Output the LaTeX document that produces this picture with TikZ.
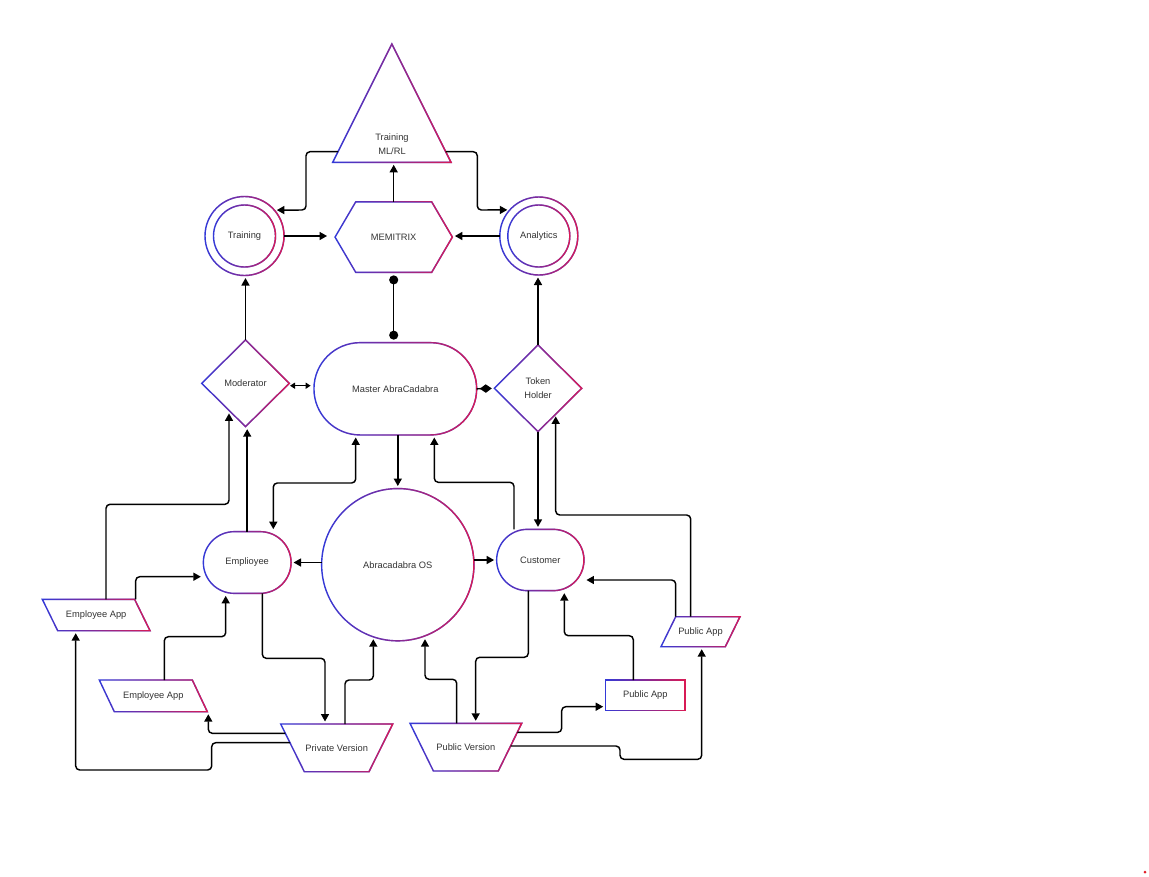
\documentclass[tikz,border=0pt]{standalone}
\usepackage{fontspec}
\setmainfont{Liberation Sans}
\usetikzlibrary{shapes.geometric,shapes.misc,arrows.meta,fadings}
\definecolor{gblue}{RGB}{40,60,225}
\definecolor{gred}{RGB}{230,25,75}
\definecolor{txt}{RGB}{51,51,51}
\definecolor{dotred}{RGB}{225,30,40}
\begin{tikzfadingfrompicture}[name=gfade]
  \shade[left color=transparent!100, right color=transparent!0] (0,0) rectangle (2,2);
\end{tikzfadingfrompicture}
\begin{document}
\begin{tikzpicture}[x=1pt,y=-1pt,
  lbl/.style={font=\fontsize{9.3}{13.5}\selectfont, text=txt, align=center, inner sep=0pt, outer sep=0pt},
  gl/.style={draw=gblue, line width=1.4pt, postaction={draw=gred, line width=1.4pt, path fading=gfade}},
  arr/.style={draw=black, line width=1.45pt, rounded corners=4pt, -{Triangle[length=7.5pt,width=8pt]}, shorten >=2.5pt},
  arrb/.style={arr, {Triangle[length=7.5pt,width=8pt]}-{Triangle[length=7.5pt,width=8pt]}, shorten <=2.5pt},
  dots/.style={draw=black, line width=1.45pt, {Circle[length=9pt]}-{Circle[length=9pt]}, shorten <=3pt, shorten >=3pt},
  dmd/.style={draw=black, line width=1.45pt, -{Diamond[length=12pt,width=8.5pt]}, shorten >=2.5pt},
  dbl/.style={draw=black, line width=1.45pt, {Triangle[length=5pt,width=6pt]}-{Triangle[length=5pt,width=6pt]}, shorten >=3.3pt, shorten <=0.7pt}
]
\useasboundingbox (0,0) rectangle (1149,876);

% ---- shapes ----
\node[lbl, minimum width=118.3pt, minimum height=118.3pt] (tri) at (391.85,103.15) {};
\draw[gl] (tri.south west) -- (tri.north) -- (tri.south east) -- cycle;
\node[lbl] (tritext) at (392,144) {Training\\ML/RL};

\node[lbl, circle, gl, minimum size=79pt] (train) at (244.5,236) {};
\node[lbl, circle, gl, minimum size=62pt] (traini) at (train.center) {Training};

\node[lbl, circle, gl, minimum size=78pt] (anal) at (538.8,236) {};
\node[lbl, circle, gl, minimum size=62pt] (anali) at (anal.center) {Analytics};

\node[lbl, minimum width=117.3pt, minimum height=70.6pt] (memi) at (393.7,237.1) {MEMITRIX};
\draw[gl] (memi.west) -- ([xshift=20.7pt]memi.north west) -- ([xshift=-20.7pt]memi.north east) -- (memi.east) -- ([xshift=-20.7pt]memi.south east) -- ([xshift=20.7pt]memi.south west) -- cycle;

\node[lbl, diamond, gl, minimum width=87.6pt, minimum height=86.7pt] (mod) at (245.5,383.3) {Moderator};
\node[lbl, rounded rectangle, gl, minimum width=162.7pt, minimum height=92.3pt] (mast) at (395.3,388.8) {Master AbraCadabra};
\node[lbl, diamond, gl, minimum width=87.4pt, minimum height=86.7pt] (tok) at (538,388.3) {Token\\Holder};

\node[lbl, rounded rectangle, gl, minimum width=87.7pt, minimum height=61.7pt] (emp) at (247.2,562.5) {Emplioyee};
\node[lbl, circle, gl, minimum size=152.3pt] (os) at (397.8,564.7) {Abracadabra OS};
\node[lbl, rounded rectangle, gl, minimum width=87.3pt, minimum height=61.3pt] (cust) at (540.3,560) {Customer};

\node[lbl, minimum width=107.7pt, minimum height=31.4pt] (app1) at (96.15,615) {Employee App};
\draw[gl] (app1.north west) -- ([xshift=-15.4pt]app1.north east) -- (app1.south east) -- ([xshift=15.4pt]app1.south west) -- cycle;

\node[lbl, minimum width=108pt, minimum height=31.7pt] (app2) at (153.3,695.85) {Employee App};
\draw[gl] (app2.north west) -- ([xshift=-15pt]app2.north east) -- (app2.south east) -- ([xshift=15pt]app2.south west) -- cycle;

\node[lbl, minimum width=112pt, minimum height=47.7pt] (priv) at (336.7,747.85) {Private Version};
\draw[gl] (priv.north west) -- (priv.north east) -- ([xshift=-23.7pt]priv.south east) -- ([xshift=23.6pt]priv.south west) -- cycle;

\node[lbl, minimum width=111.7pt, minimum height=47.7pt] (pubv) at (465.85,747.15) {Public Version};
\draw[gl] (pubv.north west) -- (pubv.north east) -- ([xshift=-23.4pt]pubv.south east) -- ([xshift=23.4pt]pubv.south west) -- cycle;

\node[lbl, rectangle, gl, minimum width=79.3pt, minimum height=30.7pt] (pubr) at (645.35,695.35) {Public App};

\node[lbl, minimum width=79pt, minimum height=30pt] (pubp) at (700.5,631.7) {Public App};
\draw[gl] ([xshift=14.7pt]pubp.north west) -- (pubp.north east) -- ([xshift=-14.7pt]pubp.south east) -- (pubp.south west) -- cycle;

\node[circle, fill=dotred, minimum size=3pt, inner sep=0pt] (reddot) at (1145,872) {};

% ---- connectors ----
\draw[arr] ([xshift=5.3pt,yshift=10.6pt]tri.south west) -| (306,210) -- (train.41);
\draw[arr] ([xshift=-5.3pt,yshift=10.6pt]tri.south east) -| (477.3,210) -- (anal.138);
\draw[arr] (memi.north) -- (memi.north |- tri.south);
\draw[arr, shorten >=8pt] (train.east) -- (train.east -| memi.west);
\draw[arr] (anal.west) -- (anal.west -| memi.east);
\draw[dots] (memi.south) -- (memi.south |- mast.north);
\draw[dbl] ([yshift=-2.4pt]mod.east) -- ([yshift=3.1pt]mast.west);
\draw[dmd] (mast.east) -- (tok.west);
\draw[arr] (mod.north) -- (mod.north |- train.south);
\draw[arr] (tok.north) -- (tok.north |- anal.south);
\draw[arr] (os.north |- mast.south) -- (os.north);
\draw[arrb] ([xshift=26.1pt]emp.north) |- (355.7,483) -- (355.7,0|-mast.south);
\draw[arr] ([xshift=-26.3pt]cust.north) |- (434.3,482.3) -- (434.3,0|-mast.south);
\draw[arr] (tok.south) -- (tok.south |- cust.north);
\draw[arr] ([xshift=-9.8pt]pubp.north) |- (555.7,515) -- (555.7,0|-tok.305);
\draw[arr] (emp.north) -- (emp.north |- mod.south);
\draw[arr] (106,0|-app1.north) |- (229,504.3) -- (229,0|-mod.240);
\draw[arr] ([xshift=-14.3pt]app1.north east) |- (emp.west |- 0,576.7);
\draw[arr] (164.3,0|-app2.north) |- (225.7,636.7) -- (225.7,0|-emp.south);
\draw[arr] (os.west |- emp.east) -- (emp.east);
\draw[arr] (os.east |- cust.west) -- (cust.west);
\draw[arr] ([xshift=15.1pt]emp.south) |- (325,658.3) -- (325,0|-priv.north);
\draw[arr] (345,0|-priv.north) |- (373.3,680) -- (373.3,0|-os.251);
\draw[arr] (456.7,0|-pubv.north) |- (425,679.3) -- (425,0|-os.289);
\draw[arr] ([xshift=-12pt]cust.south) |- (475.7,657.3) -- (475.7,0|-pubv.north);
\draw[arr] (633.3,0|-pubr.north) |- (564.3,635.7) -- (564.3,0|-cust.south);
\draw[arr] ([xshift=14.7pt]pubp.north west) |- (cust.east |- 0,580);
\draw[arr] ([xshift=-4.4pt,yshift=-9pt]pubv.north east) -| (561.7,706.7) -- (pubr.west |- 0,706.7);
\draw[arr] ([xshift=-11.1pt,yshift=-22.7pt]pubv.north east) -| (620,759.3) -| (701.7,0|-pubp.south);
\draw[arr] ([xshift=4.6pt,yshift=-9.3pt]priv.north west) -| (208.3,0|-app2.south);
\draw[arr] ([xshift=9.3pt,yshift=-18.7pt]priv.north west) -| (211.7,770) -| (75.7,0|-app1.south);
\end{tikzpicture}
\end{document}
